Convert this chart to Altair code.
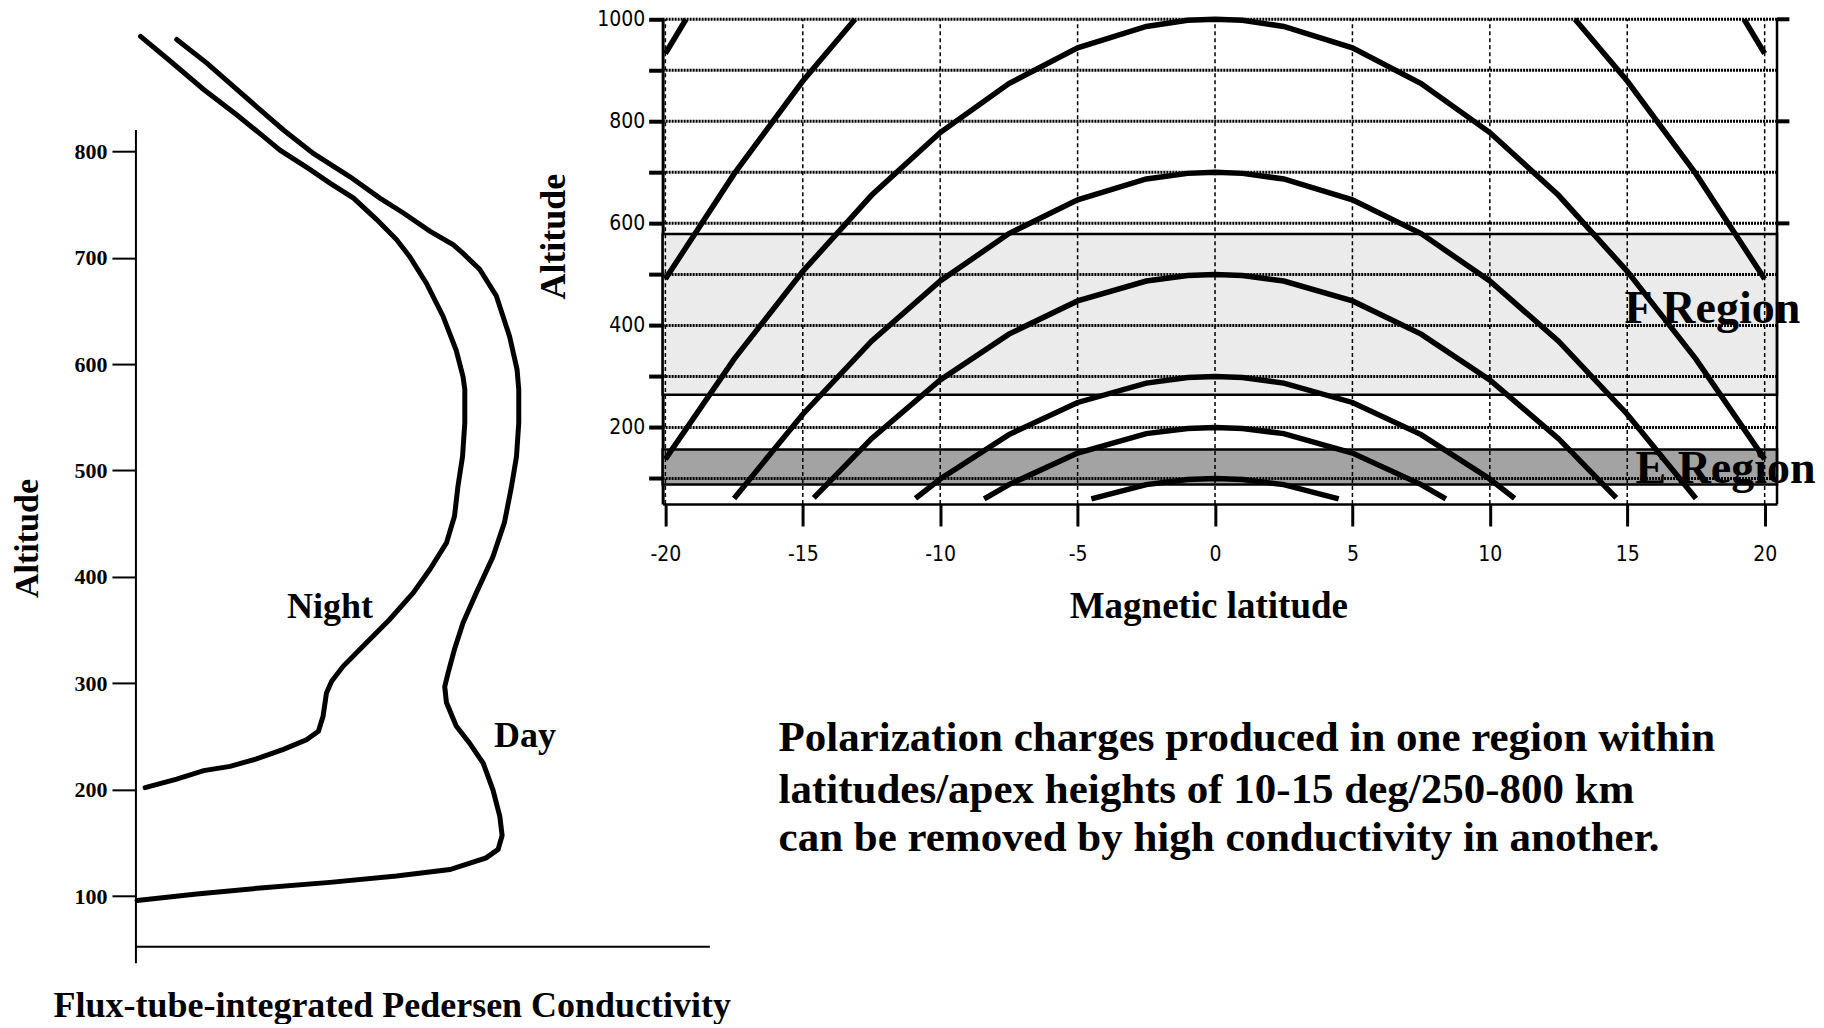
import altair as alt
import pandas as pd

SERIF = "Liberation Serif"
SANS = "Liberation Sans Narrow, DejaVu Sans Condensed, Liberation Sans"

# ---------------- Left panel: conductivity profiles ----------------
night_cond = [0.8, 5.7, 11.8, 17.6, 22.2, 25.1, 30.3, 33.8, 37.9, 41.9, 45.4, 47.7, 50.6, 53.5,
              55.8, 57.0, 57.3, 57.3, 56.9, 56.1, 55.5, 54.1, 51.2, 48.3, 44.2, 39.6, 36.1, 34.1,
              33.2, 32.6, 31.8, 29.7, 25.7, 21.0, 16.4, 11.8, 7.1, 1.6]
night_alt = [908, 886, 858, 834, 814, 801, 783, 770, 756, 736, 717, 701, 676, 645,
             613, 588, 576, 545, 513, 485, 457, 432, 407, 385, 360, 335, 316, 302,
             291, 269, 255, 247, 238, 229, 222, 218, 210, 202]
day_cond = [7.1, 12.3, 21.0, 25.7, 30.9, 37.3, 42.5, 46.6, 51.2, 55.3, 57.0, 59.9, 62.8, 65.1,
            66.4, 66.7, 66.7, 66.3, 65.4, 64.2, 62.2, 59.3, 57.0, 55.5, 54.4, 53.8, 54.1, 55.8,
            58.1, 60.5, 62.2, 63.4, 63.8, 63.1, 61.0, 54.7, 45.4, 33.8, 22.2, 10.6, 0.2]
day_alt = [905, 883, 842, 820, 798, 776, 756, 742, 725, 712, 704, 689, 664, 626,
           595, 576, 545, 513, 484, 451, 419, 385, 357, 332, 310, 297, 282, 260,
           244, 225, 200, 175, 157, 144, 136, 125, 119, 113, 108, 102, 96]
left_ticks = [100, 200, 300, 400, 500, 600, 700, 800]
profile_labels = ["Night", "Day"]
profile_label_cond = [33.8, 67.8]
profile_label_alt = [372, 251]

rows = []
for name, xs, ys in [("Night", night_cond, night_alt), ("Day", day_cond, day_alt)]:
    for i, (x, y) in enumerate(zip(xs, ys)):
        rows.append({"profile": name, "i": i, "cond": x, "alt": y})
left_df = pd.DataFrame(rows)

yL = alt.Scale(domain=[52.5, 924], nice=False, zero=False)
xL = alt.Scale(domain=[0, 70], nice=False, zero=False)

left_lines = alt.Chart(left_df).mark_line(color="black", strokeWidth=5, strokeCap="round").encode(
    x=alt.X("cond:Q", scale=xL, axis=alt.Axis(
        title="Flux-tube-integrated Pedersen Conductivity", labels=False, ticks=False, domain=False,
        grid=False, titleFont=SERIF, titleFontSize=36, titleFontWeight="bold", titleColor="black",
        titlePadding=42, titleX=256, titleBaseline="top")),
    y=alt.Y("alt:Q", scale=yL, axis=alt.Axis(
        title="Altitude", values=left_ticks, domain=False, grid=False, tickSize=24, tickWidth=2,
        tickColor="black", labelFont=SERIF, labelFontWeight="bold", labelFontSize=22,
        labelColor="black", labelPadding=5, titleFont=SERIF, titleFontSize=34,
        titleFontWeight="bold", titleColor="black", titlePadding=29, titleY=519)),
    detail="profile:N",
    order="i:Q",
)

left_axes_df = pd.DataFrame({
    "c1": [0, 0], "c2": [0, 100], "a1": [37, 52.5], "a2": [820, 52.5]
})
left_axes = alt.Chart(left_axes_df).mark_rule(color="black", strokeWidth=2).encode(
    x=alt.X("c1:Q", scale=xL), x2="c2:Q",
    y=alt.Y("a1:Q", scale=yL), y2="a2:Q",
)

left_text_df = pd.DataFrame({"label": profile_labels, "cond": profile_label_cond,
                             "alt": profile_label_alt})
left_text = alt.Chart(left_text_df).mark_text(
    font=SERIF, fontSize=36, fontWeight="bold", color="black", align="center", baseline="middle"
).encode(x=alt.X("cond:Q", scale=xL), y=alt.Y("alt:Q", scale=yL), text="label:N")

left = alt.layer(left_axes, left_lines, left_text).properties(width=402, height=928)

# ---------------- Right panel: dipole field lines ----------------
c100_lat = [-4.5, -2.5, -1, 0, 1, 2.5, 4.5]
c100_alt = [60, 88, 98, 100, 98, 88, 60]
c200_lat = [-8.4, -7.5, -5, -2.5, -1, 0, 1, 2.5, 5, 7.5, 8.4]
c200_alt = [60, 88, 150, 188, 198, 200, 198, 188, 150, 88, 60]
c300_lat = [-10.9, -10, -7.5, -5, -2.5, -1, 0, 1, 2.5, 5, 7.5, 10, 10.9]
c300_alt = [61, 99, 186, 249, 287, 298, 300, 298, 287, 249, 186, 99, 61]
c500_lat = [-14.6, -12.5, -10, -7.5, -5, -2.5, -1, 0, 1, 2.5, 5, 7.5, 10, 12.5, 14.6]
c500_alt = [62, 178, 293, 383, 448, 487, 498, 500, 498, 487, 448, 383, 293, 178, 62]
c700_lat = [-17.5, -15, -12.5, -10, -7.5, -5, -2.5, -1, 0, 1, 2.5, 5, 7.5, 10, 12.5, 15, 17.5]
c700_alt = [61, 226, 369, 487, 580, 646, 687, 698, 700, 698, 687, 646, 580, 487, 369, 226, 61]
c1000_lat = [-20, -17.5, -15, -12.5, -10, -7.5, -5, -2.5, -1, 0, 1, 2.5, 5, 7.5, 10, 12.5, 15, 17.5, 20]
c1000_alt = [138, 334, 506, 655, 778, 874, 944, 986, 998, 1000, 998, 986, 944, 874, 778, 655, 506, 334, 138]
c1400w_lat = [-20, -17.5, -15, -13.1]
c1400w_alt = [491, 697, 879, 1000]
c1400e_lat = [13.1, 15, 17.5, 20]
c1400e_alt = [1000, 879, 697, 491]
c1900w_lat = [-20, -19.25]
c1900w_alt = [933, 1000]
c1900e_lat = [19.25, 20]
c1900e_alt = [1000, 933]

x_ticks = [-20, -15, -10, -5, 0, 5, 10, 15, 20]
y_ticks = [100, 200, 300, 400, 500, 600, 700, 800, 900, 1000]
grid_alts = [100, 200, 300, 400, 500, 600, 700, 800, 900, 1000]
grid_lats = [-20, -15, -10, -5, 0, 5, 10, 15, 20]
right_tick_alts = [600, 800, 1000]

region_names = ["F", "E"]
region_bottom = [264, 88]
region_top = [579, 157]
region_fill = ["#ebebeb", "#a3a3a3"]
region_labels = ["F Region", "E Region"]
region_label_lat = [14.9, 15.3]
region_label_alt = [433, 118]

text_lines = ["Polarization charges produced in one region within",
              "latitudes/apex heights of 10-15 deg/250-800 km",
              "can be removed by high conductivity in another."]
text_line_y = [719, 771, 819]

LAT_MIN, LAT_MAX = -20.1, 20.45
xR = alt.Scale(domain=[LAT_MIN, LAT_MAX], nice=False, zero=False)
yR = alt.Scale(domain=[50, 1000], nice=False, zero=False)

crows = []
for name, la, al in [("a100", c100_lat, c100_alt), ("a200", c200_lat, c200_alt),
                     ("a300", c300_lat, c300_alt), ("a500", c500_lat, c500_alt),
                     ("a700", c700_lat, c700_alt), ("a1000", c1000_lat, c1000_alt),
                     ("a1400w", c1400w_lat, c1400w_alt), ("a1400e", c1400e_lat, c1400e_alt),
                     ("a1900w", c1900w_lat, c1900w_alt), ("a1900e", c1900e_lat, c1900e_alt)]:
    for i, (x, y) in enumerate(zip(la, al)):
        crows.append({"curve": name, "i": i, "lat": x, "alt": y})
curves_df = pd.DataFrame(crows)

regions_df = pd.DataFrame({"name": region_names, "b": region_bottom, "t": region_top,
                           "fill": region_fill, "l1": [LAT_MIN] * 2, "l2": [LAT_MAX] * 2})
regions = alt.Chart(regions_df).mark_rect(stroke="black", strokeWidth=2.5).encode(
    x=alt.X("l1:Q", scale=xR, axis=alt.Axis(
        title="Magnetic latitude", values=x_ticks, grid=False, domainColor="black",
        domainWidth=2.5, tickSize=22, tickWidth=3, tickColor="black", ticks=True,
        labelFont=SANS, labelFontSize=21, labelColor="black", labelPadding=18,
        labelExpr="datum.value < 0 ? '-' + abs(datum.value) : '' + datum.value",
        titleFont=SERIF, titleFontSize=37, titleFontWeight="bold", titleColor="black",
        titlePadding=24, titleX=546)),
    x2="l2:Q",
    y=alt.Y("b:Q", scale=yR, axis=alt.Axis(
        title="Altitude", values=y_ticks, grid=False, domainColor="black", domainWidth=3,
        tickSize=14, tickWidth=4, tickColor="black", ticks=True, labelFont=SANS,
        labelFontSize=21, labelColor="black", labelPadding=4, format="d",
        labelExpr="datum.value % 200 == 0 ? '' + datum.value : ''",
        titleFont=SERIF, titleFontSize=36, titleFontWeight="bold", titleColor="black",
        titlePadding=24, titleY=217)),
    y2="t:Q",
    fill=alt.Fill("fill:N", scale=None),
)

hgrid_df = pd.DataFrame({"alt": grid_alts, "l1": [LAT_MIN] * len(grid_alts),
                         "l2": [LAT_MAX] * len(grid_alts)})
hgrid = alt.Chart(hgrid_df).mark_rule(color="black", strokeWidth=3, strokeDash=[2, 1]).encode(
    y=alt.Y("alt:Q", scale=yR), x=alt.X("l1:Q", scale=xR), x2="l2:Q")

vgrid_df = pd.DataFrame({"lat": grid_lats, "a1": [50] * len(grid_lats),
                         "a2": [1000] * len(grid_lats)})
vgrid = alt.Chart(vgrid_df).mark_rule(color="black", strokeWidth=1.5, strokeDash=[4, 3]).encode(
    x=alt.X("lat:Q", scale=xR), y=alt.Y("a1:Q", scale=yR), y2="a2:Q")

redge_df = pd.DataFrame({"lat": [LAT_MAX], "a1": [50], "a2": [1000]})
redge = alt.Chart(redge_df).mark_rule(color="black", strokeWidth=2.5).encode(
    x=alt.X("lat:Q", scale=xR), y=alt.Y("a1:Q", scale=yR), y2="a2:Q")

rticks_df = pd.DataFrame({"alt": right_tick_alts, "l1": [LAT_MAX] * 3, "l2": [20.9] * 3})
rticks = alt.Chart(rticks_df).mark_rule(color="black", strokeWidth=4).encode(
    y=alt.Y("alt:Q", scale=yR), x=alt.X("l1:Q", scale=xR), x2="l2:Q")

curves = alt.Chart(curves_df).mark_line(color="black", strokeWidth=5.5).encode(
    x=alt.X("lat:Q", scale=xR), y=alt.Y("alt:Q", scale=yR), detail="curve:N", order="i:Q")

rlab_df = pd.DataFrame({"label": region_labels, "lat": region_label_lat, "alt": region_label_alt})
rlabels = alt.Chart(rlab_df).mark_text(
    font=SERIF, fontSize=46, fontWeight="bold", color="black", align="left", baseline="middle"
).encode(x=alt.X("lat:Q", scale=xR), y=alt.Y("alt:Q", scale=yR), text="label:N")

note_layers = []
for line, yy in zip(text_lines, text_line_y):
    note_layers.append(
        alt.Chart(pd.DataFrame({"line": [line]})).mark_text(
            font=SERIF, fontSize=43, fontWeight="bold", color="black", align="left",
            baseline="middle"
        ).encode(x=alt.value(116), y=alt.value(yy), text="line:N")
    )

right = alt.layer(regions, vgrid, hgrid, redge, rticks, curves, rlabels, *note_layers).properties(
    width=1115, height=485)

chart = alt.hconcat(left, right, spacing=125, bounds="flush").properties(
    padding={"left": 3, "top": 0, "right": 0, "bottom": 0}
).configure(background="white").configure_view(stroke="transparent", strokeWidth=0)

chart.save("out.html", embed_options={"renderer": "svg", "actions": False})
